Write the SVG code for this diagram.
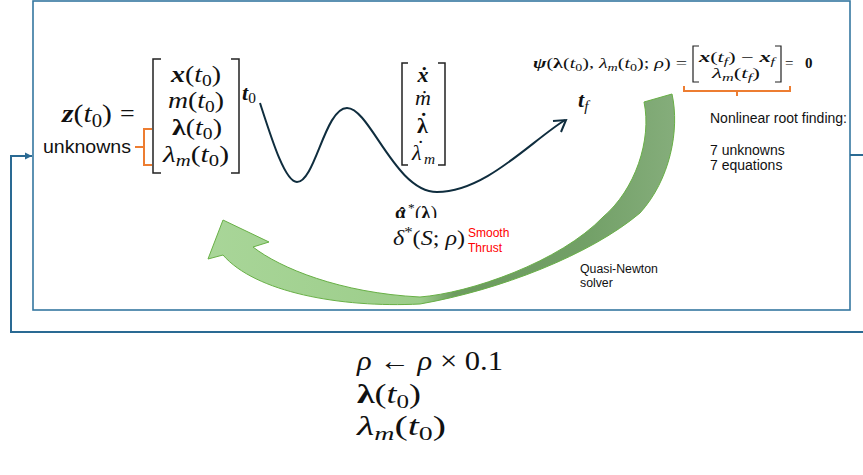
<svg xmlns="http://www.w3.org/2000/svg" width="863" height="475" viewBox="0 0 863 475">
<style>
.m{font-family:"Liberation Serif","DejaVu Serif",serif;fill:#111}
.i{font-style:italic}
.bi{font-style:italic;font-weight:bold}
.b{font-weight:bold}
.s{font-size:70%}
.sans{font-family:"Liberation Sans",Arial,sans-serif;fill:#111}
.red{fill:#ff0000}
.brk{fill:none;stroke:#222;stroke-width:1.5}
.org{fill:none;stroke:#ed7d31;stroke-width:2}
.loop{fill:none;stroke:#2a6a93;stroke-width:2}
</style>
<defs>
<marker id="ah" markerWidth="8" markerHeight="8" refX="7" refY="4" orient="auto" markerUnits="userSpaceOnUse">
<path d="M0,0.5 L7,4 L0,7.5 Z" fill="#2a6a93"/>
</marker>
<linearGradient id="gg" gradientUnits="userSpaceOnUse" x1="200" y1="0" x2="680" y2="0">
<stop offset="0" stop-color="#a9d699"/>
<stop offset="0.46" stop-color="#9ccd8a"/>
<stop offset="0.53" stop-color="#6c9b5f"/>
<stop offset="0.8" stop-color="#72a067"/>
<stop offset="1" stop-color="#86ae7c"/>
</linearGradient>
<clipPath id="clipA"><rect x="380" y="190" width="80" height="28"/></clipPath>
</defs>

<g id="box">
<rect x="33" y="1" width="817" height="309" fill="none" stroke="#3577a0" stroke-width="1.6"/>
</g>

<g id="connectors">
<path class="loop" d="M850,155 H863"/>
<path class="loop" d="M863,332 H11 V156 H32" marker-end="url(#ah)"/>
<path id="trajectory" d="M260,103 C272,140 285,182 297,182 C315,182 325,108 347,108 C370,108 395,192 437,192 C485,192 530,142 565,120" fill="none" stroke="#0f2d3e" stroke-width="2"/>
<path d="M553,121 L566,120 L561,132" fill="none" stroke="#0f2d3e" stroke-width="2" stroke-linejoin="miter"/>
<path id="solver-arrow" d="M223,220 L269,242 L253,247 C280,268 340,293 420,297 C470,293 560,262 603,217 C635,190 652,140 644,102 L672,94 C680,130 670,180 640,213 C590,255 500,290 420,304 C340,308 255,292 223,255 L208,259 Z" fill="url(#gg)" stroke="#68b046" stroke-width="1"/>
</g>

<g id="initial-state">
<text class="m" x="62" y="122" font-size="26" textLength="50" lengthAdjust="spacingAndGlyphs"><tspan class="bi">z</tspan>(<tspan class="i">t</tspan><tspan class="s" dy="5">0</tspan><tspan dy="-5">)</tspan></text>
<text class="m" x="120" y="122" font-size="26">=</text>
<path class="brk" d="M161,59 H153 V173 H161 M231,59 H239 V173 H231"/>
<text class="m" x="196" y="82" font-size="23" text-anchor="middle" textLength="50" lengthAdjust="spacingAndGlyphs"><tspan class="bi">x</tspan>(<tspan class="i">t</tspan><tspan class="s" dy="4">0</tspan><tspan dy="-4">)</tspan></text>
<text class="m" x="196" y="108" font-size="23" text-anchor="middle" textLength="56" lengthAdjust="spacingAndGlyphs"><tspan class="i">m</tspan>(<tspan class="i">t</tspan><tspan class="s" dy="4">0</tspan><tspan dy="-4">)</tspan></text>
<text class="m" x="197" y="135" font-size="23" text-anchor="middle" textLength="50" lengthAdjust="spacingAndGlyphs"><tspan class="b">λ</tspan>(<tspan class="i">t</tspan><tspan class="s" dy="4">0</tspan><tspan dy="-4">)</tspan></text>
<text class="m" x="196" y="162" font-size="23" text-anchor="middle" textLength="66" lengthAdjust="spacingAndGlyphs"><tspan class="i">λ</tspan><tspan class="s i" dy="4">m</tspan><tspan dy="-4">(</tspan><tspan class="i">t</tspan><tspan class="s" dy="4">0</tspan><tspan dy="-4">)</tspan></text>
<text class="m" x="242" y="100" font-size="22"><tspan class="bi">t</tspan><tspan class="s" dy="3">0</tspan></text>
<text class="sans" x="43" y="153" font-size="18" textLength="88" lengthAdjust="spacingAndGlyphs">unknowns</text>
<path class="org" d="M152,129 H144 V165 H152 M144,147 H135"/>
</g>

<g id="dynamics">
<path class="brk" d="M408,63 H402 V165 H408 M438,63 H445 V165 H438"/>
<text class="m" x="423" y="82" font-size="22" text-anchor="middle"><tspan class="bi">ẋ</tspan></text>
<text class="m" x="423" y="105" font-size="22" text-anchor="middle"><tspan class="i">ṁ</tspan></text>
<text class="m" y="133" font-size="22"><tspan class="b" x="417">λ</tspan><tspan class="b" x="420" dy="-5">˙</tspan></text>
<text class="m" y="160" font-size="22"><tspan class="i" x="412">λ</tspan><tspan x="417" dy="-5">˙</tspan><tspan class="s i" x="424" dy="9">m</tspan></text>
</g>

<g id="final-time">
<text class="m" x="578" y="107" font-size="22"><tspan class="bi">t</tspan><tspan class="s i" dy="4">f</tspan></text>
</g>

<g id="control">
<text class="m" y="219" font-size="19" clip-path="url(#clipA)"><tspan class="b" x="395">α</tspan><tspan class="b" x="399" dy="1">ˆ</tspan><tspan class="s" x="408" dy="-8">*</tspan><tspan x="415" dy="7">(</tspan><tspan class="b">λ</tspan>)</text>
<text class="m" x="393" y="245" font-size="22" textLength="72" lengthAdjust="spacingAndGlyphs"><tspan class="i">δ</tspan><tspan dy="-8" class="s">*</tspan><tspan dy="8">(</tspan><tspan class="i">S</tspan>; <tspan class="i">ρ</tspan>)</text>
<text class="sans red" x="468" y="237" font-size="12">Smooth</text>
<text class="sans red" x="468" y="252" font-size="12">Thrust</text>
</g>

<g id="boundary-conditions">
<text class="m" x="533" y="68" font-size="15" textLength="154" lengthAdjust="spacingAndGlyphs"><tspan class="bi">ψ</tspan>(<tspan class="b">λ</tspan>(<tspan class="i">t</tspan><tspan class="s" dy="3">0</tspan><tspan dy="-3">),</tspan> <tspan class="i">λ</tspan><tspan class="s i" dy="3">m</tspan><tspan dy="-3">(</tspan><tspan class="i">t</tspan><tspan class="s" dy="3">0</tspan><tspan dy="-3">);</tspan> <tspan class="i">ρ</tspan>) =</text>
<path class="brk" d="M699,46 H693 V82 H699 M775,46 H781 V82 H775" style="stroke-width:1.2"/>
<text class="m" x="737" y="62" font-size="14" text-anchor="middle" textLength="76" lengthAdjust="spacingAndGlyphs"><tspan class="bi">x</tspan>(<tspan class="i">t</tspan><tspan class="s i" dy="3">f</tspan><tspan dy="-3">) − </tspan><tspan class="bi">x</tspan><tspan class="s i" dy="3">f</tspan></text>
<text class="m" x="736" y="78" font-size="14" text-anchor="middle" textLength="48" lengthAdjust="spacingAndGlyphs"><tspan class="i">λ</tspan><tspan class="s i" dy="3">m</tspan><tspan dy="-3">(</tspan><tspan class="i">t</tspan><tspan class="s i" dy="3">f</tspan><tspan dy="-3">)</tspan></text>
<text class="m" x="785" y="68" font-size="15">=<tspan class="b" x="805">0</tspan></text>
<path class="org" d="M684,86 V91 H790 V86 M737,91 V96"/>
</g>

<g id="root-finding-note">
<text class="sans" x="710" y="123" font-size="14">Nonlinear root finding:</text>
<text class="sans" x="710" y="155" font-size="14">7 unknowns</text>
<text class="sans" x="710" y="170" font-size="14">7 equations</text>
</g>

<g id="solver-label">
<text class="sans" x="580" y="273" font-size="12.3">Quasi-Newton</text>
<text class="sans" x="580" y="287" font-size="12.3">solver</text>
</g>

<g id="update">
<text class="m" x="357" y="370" font-size="27" textLength="146" lengthAdjust="spacingAndGlyphs"><tspan class="i">ρ</tspan> ← <tspan class="i">ρ</tspan> × 0.1</text>
<text class="m" x="357" y="403" font-size="27" textLength="64" lengthAdjust="spacingAndGlyphs"><tspan class="b">λ</tspan>(<tspan class="i">t</tspan><tspan class="s" dy="5">0</tspan><tspan dy="-5">)</tspan></text>
<text class="m" x="357" y="435" font-size="27" textLength="89" lengthAdjust="spacingAndGlyphs"><tspan class="i">λ</tspan><tspan class="s i" dy="5">m</tspan><tspan dy="-5">(</tspan><tspan class="i">t</tspan><tspan class="s" dy="5">0</tspan><tspan dy="-5">)</tspan></text>
</g>
</svg>
